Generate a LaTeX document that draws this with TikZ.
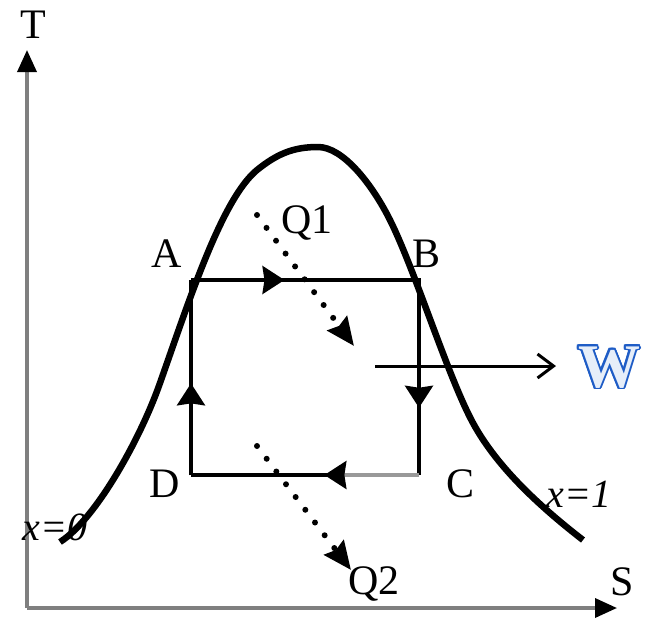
\documentclass[tikz,border=0pt]{standalone}
\usepackage{fontspec}
\setmainfont{Liberation Serif}
\usetikzlibrary{arrows.meta,calc}
\definecolor{axisgray}{HTML}{7F7F7F}
\definecolor{lightgray}{HTML}{999999}
\definecolor{wblue}{HTML}{1E5CC6}
\definecolor{wfill}{HTML}{E6EEF9}
\tikzset{
  lbl/.style={inner sep=0pt, anchor=base, font=\fontsize{42}{50}\selectfont},
  ilbl/.style={lbl, font=\fontsize{40}{48}\selectfont\itshape},
  axis/.style={draw=axisgray, line width=3.5pt},
  axtip/.style={-{Triangle[length=22pt,width=19pt,color=black]}},
  cyc/.style={line width=3.5pt, black},
  midtip/.style={-{Stealth[length=22pt,width=28pt,inset=2pt]}},
  curve/.style={line width=6.5pt, black},
  dotarrow/.style={line width=6pt, line cap=round, dash pattern=on 0pt off 16pt,
    -{Stealth[length=28pt,width=24pt,inset=3pt]}},
  warrow/.style={line width=3pt, -{Straight Barb[length=16pt,width=24pt,line width=3pt]}},
  wlbl/.style={inner sep=0pt, anchor=base, font=\fontsize{62}{66}\selectfont\bfseries}
}
\begin{document}
\begin{tikzpicture}[x=1pt,y=-1pt]
\useasboundingbox (0,0) rectangle (648,619);
% axes
\coordinate (O) at (27,608);
\coordinate (Ty) at (27,50);
\coordinate (Sx) at (617,608);
\draw[axis,axtip] (O) -- (Ty);
\draw[axis,axtip] (O) -- (Sx);
\node[lbl] (T) at (33,38) {T};
\node[lbl] (S) at (622,595) {S};
% saturation dome
\draw[curve] (60,542) .. controls (95,520) and (140,440) .. (160,383)
  .. controls (190,298) and (222,199) .. (257,170)
  .. controls (277,154) and (293,147) .. (318,147)
  .. controls (343,147) and (372,184) .. (390,220)
  .. controls (415,270) and (448,377) .. (473,423)
  .. controls (498,469) and (543,509) .. (583,540);
\node[ilbl] (x0) at (55,540) {x=0};
\node[ilbl] (x1) at (579,507) {x=1};
% cycle
\coordinate (A) at (191,280);
\coordinate (B) at (419,280);
\coordinate (C) at (419,475);
\coordinate (D) at (191,475);
\draw[cyc] (A) -- (B) -- (C);
\draw[cyc] (D) -- (A);
\draw[cyc,midtip] (A) -- ($(A)!0.41!(B)$);
\draw[cyc,midtip] (B) -- ($(B)!0.655!(C)$);
\draw[cyc,midtip] (D) -- ($(D)!0.47!(A)$);
\draw[cyc,draw=lightgray] (C) -- ($(C)!0.33!(D)$);
\draw[cyc] ($(C)!0.33!(D)$) -- (D);
\draw[cyc,midtip] ($(C)!0.33!(D)$) -- ($(C)!0.415!(D)$);
\node[lbl] (la) at (167,267) {A};
\node[lbl] (lb) at (427,267) {B};
\node[lbl] (lc) at (461,497) {C};
\node[lbl] (ld) at (165,497) {D};
% heat flows
\coordinate (q1s) at (257,215);
\coordinate (q1e) at (354,346);
\coordinate (q2s) at (257,446);
\coordinate (q2e) at (351,570);
\draw[dotarrow] (q1s) -- (q1e);
\draw[dotarrow] (q2s) -- (q2e);
\node[lbl] (Q1) at (307,233) {Q1};
\node[lbl] (Q2) at (374,594) {Q2};
% work
\coordinate (ws) at (375,366);
\coordinate (we) at (556,366);
\draw[warrow] (ws) -- (we);
\foreach \a in {0,20,...,340}
  \node[wlbl, text=wblue] at ($(609,387)+(\a:2pt)$) {W};
\node[wlbl, text=wfill] (W) at (609,387) {W};
\end{tikzpicture}
\end{document}
